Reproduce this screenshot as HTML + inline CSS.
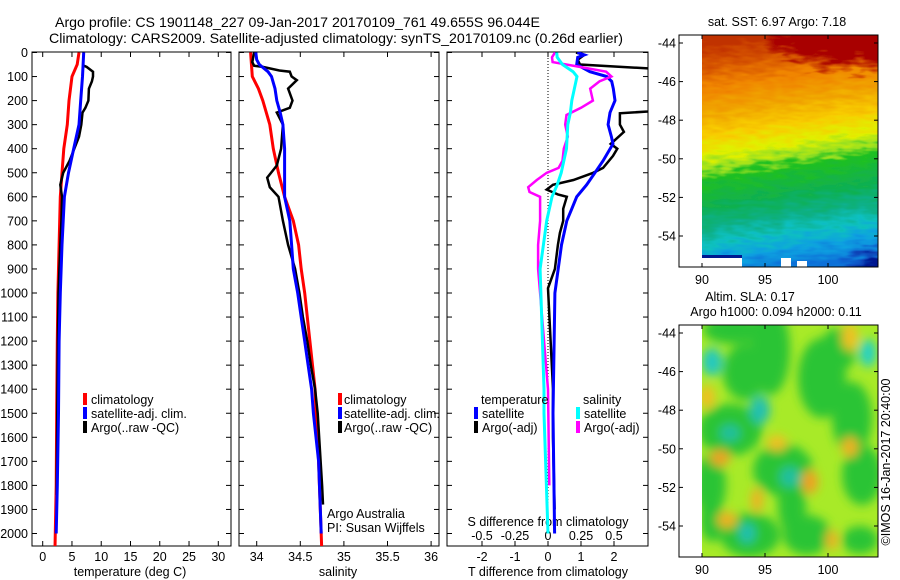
<!DOCTYPE html>
<html><head><meta charset="utf-8"><style>
html,body{margin:0;padding:0;background:#fff;}
svg{display:block;font-family:"Liberation Sans",sans-serif;}
text{fill:#000;}
</style></head><body>
<svg id="fig" width="900" height="580" viewBox="0 0 900 580">
<defs>
<clipPath id="c1"><rect x="32" y="52" width="199" height="494"/></clipPath>
<clipPath id="c2"><rect x="239" y="52" width="200" height="494"/></clipPath>
<clipPath id="c3"><rect x="447" y="52" width="201" height="494"/></clipPath>
<clipPath id="cm1"><rect x="702" y="35" width="176" height="232"/></clipPath>
<clipPath id="cm2"><rect x="702" y="325" width="176" height="232"/></clipPath>
<linearGradient id="sstg" gradientUnits="userSpaceOnUse" x1="780" y1="35" x2="813" y2="267">
<stop offset="0" stop-color="#c03000"/><stop offset="0.09" stop-color="#d85800"/>
<stop offset="0.18" stop-color="#f08400"/><stop offset="0.28" stop-color="#f0a400"/>
<stop offset="0.38" stop-color="#f8cc00"/><stop offset="0.46" stop-color="#e0f000"/>
<stop offset="0.52" stop-color="#98e020"/><stop offset="0.56" stop-color="#20c020"/>
<stop offset="0.68" stop-color="#10b050"/><stop offset="0.77" stop-color="#10b088"/>
<stop offset="0.84" stop-color="#10c0c0"/><stop offset="0.91" stop-color="#10a0e0"/>
<stop offset="1" stop-color="#1070d8"/></linearGradient>
<radialGradient id="redtop" cx="0.5" cy="0.5" r="0.5"><stop offset="0.5" stop-color="#a80000"/><stop offset="1" stop-color="#a80000" stop-opacity="0"/></radialGradient>
<radialGradient id="navyc" cx="0.5" cy="0.5" r="0.5"><stop offset="0.3" stop-color="#001890"/><stop offset="1" stop-color="#1050d0" stop-opacity="0"/></radialGradient>
<filter id="streak" x="-10%" y="-10%" width="120%" height="120%">
<feTurbulence type="fractalNoise" baseFrequency="0.06 0.2" numOctaves="2" seed="3"/>
<feDisplacementMap in="SourceGraphic" scale="26" xChannelSelector="R" yChannelSelector="G"/></filter>
<filter id="blur8"><feGaussianBlur stdDeviation="5"/></filter>
</defs>

<text x="55" y="27" font-size="14" textLength="485" lengthAdjust="spacingAndGlyphs">Argo profile: CS 1901148_227 09-Jan-2017 20170109_761 49.655S 96.044E</text>
<text x="49" y="43" font-size="14" textLength="574" lengthAdjust="spacingAndGlyphs">Climatology: CARS2009. Satellite-adjusted climatology: synTS_20170109.nc (0.26d earlier)</text>

<g id="axes"></g>
<g id="marks"></g>

<g font-size="12.5">
<rect x="83" y="393" width="4" height="12" fill="#f00"/><text x="91" y="404">climatology</text>
<rect x="83" y="407" width="4" height="12" fill="#00f"/><text x="91" y="418">satellite-adj. clim.</text>
<rect x="83" y="421" width="4" height="12" fill="#000"/><text x="91" y="432">Argo(..raw -QC)</text>
</g>
<g font-size="12.5">
<rect x="338" y="393" width="4" height="12" fill="#f00"/><text x="344" y="404">climatology</text>
<rect x="338" y="407" width="4" height="12" fill="#00f"/><text x="344" y="418">satellite-adj. clim.</text>
<rect x="338" y="421" width="4" height="12" fill="#000"/><text x="344" y="432">Argo(..raw -QC)</text>
</g>
<g font-size="12.5">
<text x="481" y="404">temperature</text>
<rect x="474" y="407" width="4" height="12" fill="#00f"/><text x="482" y="418">satellite</text>
<rect x="474" y="421" width="4" height="12" fill="#000"/><text x="482" y="432">Argo(-adj)</text>
<text x="583" y="404">salinity</text>
<rect x="576" y="407" width="4" height="12" fill="#0ff"/><text x="584" y="418">satellite</text>
<rect x="576" y="421" width="4" height="12" fill="#f0f"/><text x="584" y="432">Argo(-adj)</text>
</g>
<text x="327" y="518" font-size="12.5">Argo Australia</text>
<text x="327" y="532" font-size="12.5">PI: Susan Wijffels</text>

<g>
<g clip-path="url(#cm1)">
<g filter="url(#streak)">
<rect x="690" y="20" width="200" height="260" fill="url(#sstg)"/>
<ellipse cx="850" cy="42" rx="80" ry="32" fill="url(#redtop)"/>
<ellipse cx="800" cy="40" rx="40" ry="18" fill="url(#redtop)"/>
<ellipse cx="880" cy="268" rx="45" ry="25" fill="url(#navyc)"/>
</g>
<rect x="702" y="258" width="40" height="10" fill="#fff"/>
<rect x="702" y="255" width="40" height="3" fill="#001890"/>
<rect x="781" y="258" width="10" height="10" fill="#fff"/>
<rect x="797" y="261" width="10" height="7" fill="#fff"/>
</g>
<rect x="679" y="35" width="199" height="232" fill="none" stroke="#000" stroke-width="1"/>
</g>
<text x="777" y="26" font-size="12.5" text-anchor="middle">sat. SST: 6.97 Argo: 7.18</text>

<g>
<g clip-path="url(#cm2)">
<rect x="702" y="325" width="176" height="232" fill="#a8ea28"/>
<g filter="url(#blur8)" id="slablobs"></g>
</g>
<rect x="679" y="325" width="199" height="232" fill="none" stroke="#000" stroke-width="1"/>
</g>
<text x="750" y="301" font-size="12.5" text-anchor="middle">Altim. SLA: 0.17</text>
<text x="776" y="316" font-size="12.5" text-anchor="middle">Argo h1000: 0.094 h2000: 0.11</text>
<text transform="translate(890,462) rotate(-90)" font-size="12.5" text-anchor="middle">©IMOS 16-Jan-2017 20:40:00</text>
<g id="mapaxes"></g>
</svg>
<script>
const tempClimDepth = [0,50,100,200,300,400,500,600,700,800,1000,1200,1500,1800,2060];
const tempClim = [6.2,5.9,5.0,4.5,4.2,3.6,3.3,3.0,2.9,2.8,2.6,2.5,2.4,2.3,2.1];
const tempSatDepth = [0,50,100,200,300,400,500,600,700,800,1000,1200,1500,1800,2000];
const tempSat = [7.0,6.9,6.8,6.5,6.2,5.3,4.4,3.7,3.5,3.3,3.0,2.8,2.7,2.5,2.3];
const tempArgoDepth = [55,60,80,100,120,150,200,230,250,300,350,400,450,500,550,600,700,800,1000,1200,1500,1800,1840];
const tempArgo = [7.0,7.5,8.6,8.6,8.4,7.9,7.8,7.3,6.8,6.6,6.2,5.4,4.6,3.5,3.0,3.3,3.2,3.0,2.7,2.6,2.5,2.4,2.4];

const salClimDepth = [0,100,150,200,300,400,500,600,700,800,900,1000,1100,1200,1300,1400,1500,1600,2060];
const salClim = [33.93,33.95,34.02,34.07,34.15,34.19,34.25,34.32,34.42,34.48,34.51,34.55,34.58,34.61,34.64,34.67,34.68,34.70,34.745];
const salSatDepth = [0,30,50,80,100,150,200,250,300,400,600,700,800,900,1000,1100,1200,1300,1400,1500,1700,2000];
const salSat = [33.99,34.0,34.03,34.13,34.17,34.21,34.23,34.27,34.30,34.32,34.32,34.38,34.40,34.42,34.47,34.51,34.55,34.59,34.63,34.65,34.71,34.74];
const salArgoDepth = [0,40,55,60,75,80,100,115,150,200,230,250,300,400,470,520,560,600,700,800,900,1000,1100,1200,1300,1400,1500,1800,1880];
const salArgo = [33.97,33.95,33.97,34.07,34.26,34.38,34.40,34.46,34.36,34.41,34.38,34.23,34.30,34.28,34.23,34.12,34.15,34.25,34.30,34.36,34.44,34.49,34.53,34.58,34.62,34.67,34.70,34.75,34.76];

const dTSatDepth = [0,10,20,50,80,100,120,150,200,250,300,350,380,450,500,550,600,650,700,800,900,1000,1500,2000];
const dTSat = [0.89,1.1,0.9,0.87,1.27,1.78,1.93,1.98,2.03,1.88,1.82,1.92,1.97,1.67,1.42,1.17,0.87,0.72,0.57,0.41,0.31,0.21,0.15,0.2];
const dTArgoDepth = [0,10,30,50,70,80,232,253,300,330,380,400,430,480,500,530,550,570,590,600,650,700,750,800,900,980,1400,1600,1900];
const dTArgo = [0.85,1.1,0.9,0.97,3.5,4.5,4.5,2.18,2.18,2.3,1.9,2.1,1.97,1.67,1.37,0.77,0.15,-0.04,0.3,0.57,0.46,0.46,0.36,0.30,0.21,0.0,0.15,0.15,0.2];
const dSSatDepth = [0,20,50,80,100,150,200,250,300,400,500,550,600,700,800,900,1400,1500,2000];
const dSSat = [0.066,0.07,0.11,0.19,0.22,0.2,0.18,0.17,0.15,0.14,0.10,0.07,0.03,-0.01,-0.035,-0.06,-0.03,-0.03,0.0];
const dSArgoDepth = [0,20,40,60,80,100,120,150,200,230,260,300,350,400,450,480,500,530,560,580,600,700,800,900,1000,1400,1800];
const dSArgo = [0.053,0.03,0.035,0.24,0.44,0.48,0.39,0.32,0.34,0.25,0.14,0.13,0.15,0.12,0.11,0.08,-0.01,-0.085,-0.15,-0.14,-0.06,-0.06,-0.075,-0.075,-0.06,0.0,0.01];

const depthTicks = [0,100,200,300,400,500,600,700,800,900,1000,1100,1200,1300,1400,1500,1600,1700,1800,1900,2000];
const tempTicks = [0,5,10,15,20,25,30];
const salTicks = [34,34.5,35,35.5,36];
const dTTicks = [-2,-1,0,1,2];
const dSTicks = [-0.5,-0.25,0,0.25,0.5];
const dSTickLabels = ["-0.5","-0.25","0","0.25","0.5"];
const latTicks = [-44,-46,-48,-50,-52,-54];
const lonTicks = [90,95,100];

const yD = d => 52.5 + 0.2405*d;
const xT = t => 42.7 + 5.853*t;
const xS = s => 256.7 + 87.2*(s-34);
const xDT = t => 548 + 33*t;
const xDS = s => 548 + 132*s;
const yLat1 = l => 43 + (-44 - l)*19.3;
const yLat2 = l => 333 + (-44 - l)*19.3;
const xLon = l => 702 + (l-90)*12.6;

const NS = 'http://www.w3.org/2000/svg';
function mk(tag, attrs, parent){const e=document.createElementNS(NS,tag);for(const k in attrs)e.setAttribute(k,attrs[k]);parent.appendChild(e);return e;}
const axes = document.getElementById('axes');
const marks = document.getElementById('marks');

function series(depths, vals, xf, color, w, clip, name){
  let pts=[];
  for(let i=0;i<depths.length;i++){pts.push(xf(vals[i]).toFixed(1)+','+yD(depths[i]).toFixed(1));}
  const p = mk('polyline',{points:pts.join(' '),fill:'none',stroke:color,'stroke-width':w,'stroke-linejoin':'miter','clip-path':'url(#'+clip+')'},marks);
  
  
}

const panels=[[32,231,'temperature-panel'],[239,439,'salinity-panel'],[447,648,'difference-panel']];
panels.forEach(pn=>{
  const r = mk('rect',{x:pn[0],y:52,width:pn[1]-pn[0],height:494,fill:'none',stroke:'#000','stroke-width':1},axes);
  
  
  depthTicks.forEach(d=>{
    mk('line',{x1:pn[0],x2:pn[0]+5,y1:yD(d),y2:yD(d),stroke:'#000'},axes);
    mk('line',{x1:pn[1]-5,x2:pn[1],y1:yD(d),y2:yD(d),stroke:'#000'},axes);
  });
});
depthTicks.forEach(d=>{
  const t = mk('text',{x:28,y:yD(d)+4.5,'font-size':12.5,'text-anchor':'end'},axes);
  t.textContent = d;
  
  
});
function xTicks(ticks, xf, labels, ly, name){
  ticks.forEach((v,i)=>{
    mk('line',{x1:xf(v),x2:xf(v),y1:52,y2:57,stroke:'#000'},axes);
    mk('line',{x1:xf(v),x2:xf(v),y1:541,y2:546,stroke:'#000'},axes);
    const t = mk('text',{x:xf(v),y:ly,'font-size':12.5,'text-anchor':'middle'},axes);
    t.textContent = labels ? labels[i] : v;
    
    
  });
}
xTicks(tempTicks, xT, null, 561, 'temperature-tick-label');
xTicks(salTicks, xS, null, 561, 'salinity-tick-label');
xTicks(dTTicks, xDT, null, 561, 't-difference-tick-label');
dSTicks.forEach((v,i)=>{
  const t = mk('text',{x:xDS(v),y:540,'font-size':12.5,'text-anchor':'middle'},axes);
  t.textContent = dSTickLabels[i];
  
  
});
[[130,576,'temperature (deg C)','temperature-axis-title'],[338,576,'salinity','salinity-axis-title'],[548,576,'T difference from climatology','t-difference-axis-title'],[548,526,'S difference from climatology','s-difference-axis-title']].forEach(a=>{
  const t = mk('text',{x:a[0],y:a[1],'font-size':12.5,'text-anchor':'middle'},axes);
  t.textContent = a[2];
  
  
});
const zl = mk('line',{x1:xDT(0),x2:xDT(0),y1:52,y2:520,stroke:'#000','stroke-dasharray':'1,2'},axes);



series(tempClimDepth,tempClim,xT,'#f00',3,'c1','temp-climatology-line');
series(tempArgoDepth,tempArgo,xT,'#000',2.5,'c1','temp-argo-line');
series(tempSatDepth,tempSat,xT,'#00f',3,'c1','temp-satellite-line');
series(salClimDepth,salClim,xS,'#f00',3,'c2','sal-climatology-line');
series(salArgoDepth,salArgo,xS,'#000',2.5,'c2','sal-argo-line');
series(salSatDepth,salSat,xS,'#00f',3,'c2','sal-satellite-line');
series(dTArgoDepth,dTArgo,xDT,'#000',2.5,'c3','t-diff-argo-line');
series(dTSatDepth,dTSat,xDT,'#00f',3,'c3','t-diff-satellite-line');
series(dSArgoDepth,dSArgo,xDS,'#f0f',2.5,'c3','s-diff-argo-line');
series(dSSatDepth,dSSat,xDS,'#0ff',3,'c3','s-diff-satellite-line');

const blobs = document.getElementById('slablobs');
const G='#2cc434';
[[770,350,20,45,G],[822,378,24,40,G],[730,430,32,26,G],[783,470,30,26,G],[710,485,16,30,G],[852,418,20,36,G],[807,535,24,20,G],[750,535,30,22,G],[733,330,30,14,G],[862,475,20,30,G],[792,505,14,30,G],[745,372,22,28,G],[838,350,18,22,G],[712,520,12,22,G],[860,540,18,14,G],[712,362,10,14,'#20c8c0'],[760,410,10,14,'#20c0b0'],[868,353,8,14,'#20d0c8'],[747,533,8,10,'#20c0b0'],[730,433,10,8,'#20c0a0'],[790,477,10,10,'#20c0a0'],[720,458,10,8,'#f0a020'],[810,482,8,12,'#f0a020'],[850,447,8,10,'#f0b020'],[727,520,10,8,'#f0b020'],[757,500,6,12,'#f0b020'],[777,443,10,8,'#f0c020'],[707,397,8,12,'#f0c020'],[850,337,8,14,'#f0c020'],[832,540,6,10,'#f0b020']].forEach(b=>{
  const e = mk('ellipse',{cx:b[0],cy:b[1],rx:b[2],ry:b[3],fill:b[4]},blobs);
  
  
});

const ma = document.getElementById('mapaxes');
[[yLat1,35,267],[yLat2,325,557]].forEach(m=>{
  latTicks.forEach(l=>{
    const y = m[0](l);
    mk('line',{x1:679,x2:683,y1:y,y2:y,stroke:'#000'},ma);
    mk('line',{x1:874,x2:878,y1:y,y2:y,stroke:'#000'},ma);
    const t = mk('text',{x:676,y:y+4.5,'font-size':12.5,'text-anchor':'end'},ma);
    t.textContent = l;
    
    
  });
  lonTicks.forEach(l=>{
    const x = xLon(l);
    mk('line',{x1:x,x2:x,y1:m[1],y2:m[1]+4,stroke:'#000'},ma);
    mk('line',{x1:x,x2:x,y1:m[2]-4,y2:m[2],stroke:'#000'},ma);
    const t = mk('text',{x:x,y:m[2]+17,'font-size':12.5,'text-anchor':'middle'},ma);
    t.textContent = l;
    
    
  });
});
</script>
</body></html>
